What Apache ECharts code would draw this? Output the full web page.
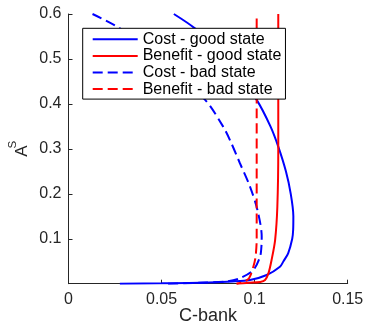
<!DOCTYPE html>
<html>
<head>
<meta charset="utf-8">
<script src="https://cdn.jsdelivr.net/npm/echarts@6/dist/echarts.min.js"></script>
<style>html,body{margin:0;padding:0;background:#fff;}#c{width:366px;height:324px;}</style>
</head>
<body>
<div id="c"></div>
<script>
const seriesNames = ['Cost - good state', 'Benefit - good state', 'Cost - bad state', 'Benefit - bad state'];
const xTickLabels = ['0', '0.05', '0.1', '0.15'];
const yTickLabels = ['0', '0.1', '0.2', '0.3', '0.4', '0.5', '0.6'];

// values as [C-bank, A^S]
const costGood = [
  [0.0566,0.6],[0.0679,0.568],[0.080,0.52],[0.090,0.47],[0.1011,0.409],[0.1085,0.35],
  [0.1127,0.305],[0.1168,0.25],[0.1194,0.2],[0.1208,0.15],[0.1207,0.12],[0.1202,0.1],
  [0.118,0.0676],[0.1155,0.05],[0.1136,0.0378],[0.1065,0.0194],[0.0975,0.0082],
  [0.088,0.005],[0.0706,0.0022],[0.05,0.001],[0.0276,0]
];
const benefitGood = [
  [0.1127,0.6],[0.1127,0.3],[0.1122,0.171],[0.111,0.097],[0.1091,0.0527],[0.1074,0.023],
  [0.1056,0.0082],[0.103,0.004],[0.097,0.002],[0.0903,0]
];
const costBad = [
  [0.0129,0.6],[0.0276,0.568],[0.042,0.52],[0.056,0.47],[0.0734,0.409],[0.083,0.35],
  [0.0868,0.319],[0.0921,0.268],[0.0975,0.216],[0.1015,0.164],[0.1038,0.1046],[0.1036,0.08],
  [0.1029,0.06],[0.0993,0.0305],[0.092,0.012],[0.085,0.005],[0.07,0.002],[0.0527,0]
];
const benefitBad = [
  [0.1011,0.59],[0.1011,0.1],[0.1005,0.06],[0.0993,0.0378],[0.097,0.012],[0.094,0.004],[0.0903,0]
];

const chart = echarts.init(document.getElementById('c'), null, {renderer: 'canvas'});
const font = '"Liberation Sans", Arial, Helvetica, sans-serif';
const axisColor = '#262626';
function mk(name, data, color, type) {
  return {
    name: name, type: 'line', data: data, symbol: 'none', smooth: 0.3,
    lineStyle: {color: color, width: 2, type: type === 'dashed' ? [10, 5] : 'solid'},
    itemStyle: {color: color}, animation: false, z: 2
  };
}
chart.setOption({
  animation: false,
  backgroundColor: '#fff',
  grid: {left: 68.5, right: 18.3, top: 14, bottom: 40.3, containLabel: false, outerBoundsMode: 'none'},
  xAxis: {
    type: 'value', min: 0, max: 0.15, interval: 0.05,
    name: 'C-bank', nameLocation: 'middle', nameGap: 23, nameMoveOverlap: false,
    nameTextStyle: {fontFamily: font, fontSize: 18, color: axisColor},
    axisLine: {show: true, onZero: false, lineStyle: {color: axisColor, width: 1}},
    axisTick: {show: true, inside: true, length: 4, lineStyle: {color: axisColor}},
    axisLabel: {fontFamily: font, fontSize: 16, color: axisColor, margin: 8,
      formatter: (v) => xTickLabels[Math.round(v / 0.05)]},
    splitLine: {show: false}
  },
  yAxis: {
    type: 'value', min: 0, max: 0.6, interval: 0.1,
    name: '{a|A}{s|S}', nameLocation: 'middle', nameGap: 38, nameRotate: 90, nameMoveOverlap: false,
    nameTextStyle: {fontFamily: font, color: axisColor,
      rich: {
        a: {fontFamily: font, fontSize: 17, color: axisColor, lineHeight: 24, verticalAlign: 'bottom'},
        s: {fontFamily: font, fontSize: 11.5, color: axisColor, lineHeight: 7, verticalAlign: 'top', padding: [0, 0, 0, -3]}
      }},
    axisLine: {show: true, onZero: false, lineStyle: {color: axisColor, width: 1}},
    axisTick: {show: true, inside: true, length: 4, lineStyle: {color: axisColor}},
    axisLabel: {fontFamily: font, fontSize: 16, color: axisColor, margin: 7, showMinLabel: false,
      formatter: (v) => yTickLabels[Math.round(v / 0.1)]},
    splitLine: {show: false}
  },
  legend: {
    data: seriesNames,
    orient: 'vertical', left: 82.7, top: 28.3,
    padding: [3, 4, 2, 9], itemGap: 0.6, itemWidth: 45, itemHeight: 10,
    borderColor: '#000', borderWidth: 1, backgroundColor: '#fff',
    itemStyle: {opacity: 0},
    textStyle: {fontFamily: font, fontSize: 16, color: '#000', lineHeight: 15},
    z: 10
  },
  series: [
    mk(seriesNames[0], costGood, '#0000ff', 'solid'),
    mk(seriesNames[1], benefitGood, '#ff0000', 'solid'),
    mk(seriesNames[2], costBad, '#0000ff', 'dashed'),
    mk(seriesNames[3], benefitBad, '#ff0000', 'dashed')
  ]
});
</script>
</body>
</html>
